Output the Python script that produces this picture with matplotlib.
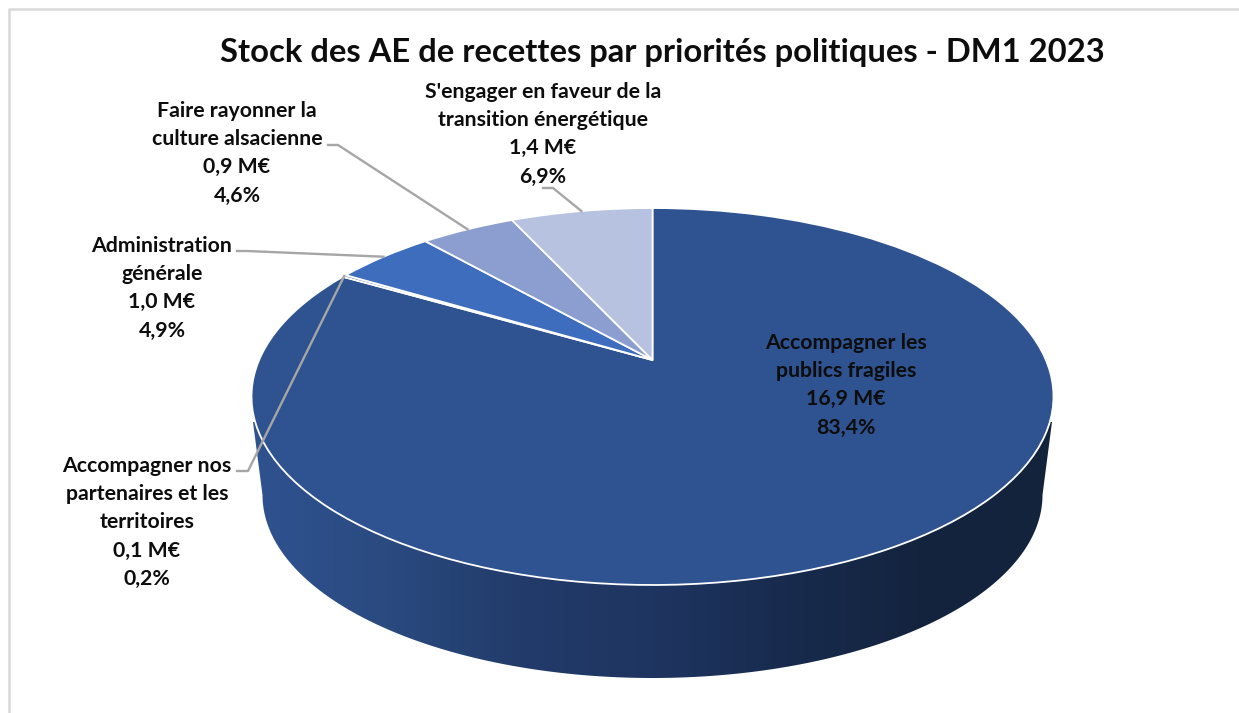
import numpy as np
import matplotlib
matplotlib.use("Agg")
import matplotlib.pyplot as plt
from matplotlib.colors import LinearSegmentedColormap
from matplotlib.patches import Polygon
from matplotlib.transforms import Transform

# Chart data
names = [
    ["Accompagner les", "publics fragiles"],
    ["Accompagner nos", "partenaires et les", "territoires"],
    ["Administration", "générale"],
    ["Faire rayonner la", "culture alsacienne"],
    ["S'engager en faveur de la", "transition énergétique"],
]
amounts = ["16,9 M€", "0,1 M€", "1,0 M€", "0,9 M€", "1,4 M€"]
shares = [83.4, 0.2, 4.9, 4.6, 6.9]
title = "Stock des AE de recettes par priorités politiques - DM1 2023"

# Look of the chart
colors = ["#2f5290", "#2f5290", "#3f6dbd", "#8c9ed0", "#b7c1e0"]
label_pos = [(846, 343), (147, 466), (162, 246), (237, 111), (543, 92)]
leaders = [None, [(237, 471), (248, 471)], [(237, 251), (247, 251)],
           [(328, 145), (338, 145)], [(543, 188), (553, 188)]]
side_colors = ["#2f5290", "#2a4a80", "#223b6a", "#1f3561", "#182b4e", "#14243f", "#13233c"]

plt.rcParams["font.family"] = ["Lato", "DejaVu Sans"]


# tilted view of the pie: flat unit circle -> pixels, with the apex off centre
class Tilt(Transform):
    input_dims = 2
    output_dims = 2

    def __init__(self, cx, cy, bx, by, k):
        super().__init__()
        self.p = (cx, cy, bx, by, k)

    def transform_non_affine(self, xy):
        cx, cy, bx, by, k = self.p
        xy = np.asarray(xy, dtype=float)
        d = 1 + k * xy[:, 1]
        return np.column_stack([cx + bx * xy[:, 0] / d, cy - by * xy[:, 1] / d])


top = Tilt(652.5, 360, 393.4, 181.4, 0.1937)

fig = plt.figure(figsize=(12.39, 7.13), dpi=100)
ax = fig.add_axes([0, 0, 1, 1])

wedges, _ = ax.pie(shares, colors=colors, startangle=90, counterclock=False,
                   wedgeprops={"edgecolor": "white", "linewidth": 1.3})
ax.set_aspect("auto")
ax.axis("off")

# side of the disc, a horizontal gradient clipped to the wall shape
t = np.linspace(0, np.pi, 200)
wall = [(253, 422)] + [(652.5 - 390 * np.cos(a), 495 + 183 * np.sin(a)) for a in t] + [(1052, 422)]
wall_patch = Polygon(wall, closed=True, fc="none", ec="none")
ax.add_patch(wall_patch)
cmap = LinearSegmentedColormap.from_list("side", side_colors)
img = ax.imshow(np.linspace(0, 1, 256).reshape(1, -1), cmap=cmap, aspect="auto",
                extent=(253, 1052, 700, 400), zorder=0.5)
img.set_clip_path(wall_patch)
ax.set_xlim(0, 1239)
ax.set_ylim(713, 0)

for w in wedges:
    w.set_transform(top + ax.transData)
    w.set_zorder(1)

# leader lines end on the rim, at the middle of their slice
for w, elbow in zip(wedges, leaders):
    if elbow is None:
        continue
    mid = np.radians((w.theta1 + w.theta2) / 2)
    end = top.transform(np.array([[np.cos(mid), np.sin(mid)]]))[0]
    xs = [p[0] for p in elbow] + [end[0]]
    ys = [p[1] for p in elbow] + [end[1]]
    ax.plot(xs, ys, color="#a6a6a6", lw=1.7, zorder=2, solid_joinstyle="round")

# labels
for name, amount, share, (x, y) in zip(names, amounts, shares, label_pos):
    lines = name + [amount, f"{share:.1f}%".replace(".", ",")]
    for i, line in enumerate(lines):
        ax.text(x, y + i * 28.2, line, ha="center", va="center", fontsize=15.3,
                fontweight="bold", color="#0d0d0d", zorder=3)

ax.text(662, 52.5, title, ha="center", va="center", fontsize=23.6, fontweight="bold",
        color="#0d0d0d")

# chart frame, cropped on the right and at the bottom
ax.plot([8.7, 8.7, 1239], [713, 9.3, 9.3], color="#d9d9d9", lw=1.8, zorder=0.2)

fig.savefig("out.png", dpi=100)
